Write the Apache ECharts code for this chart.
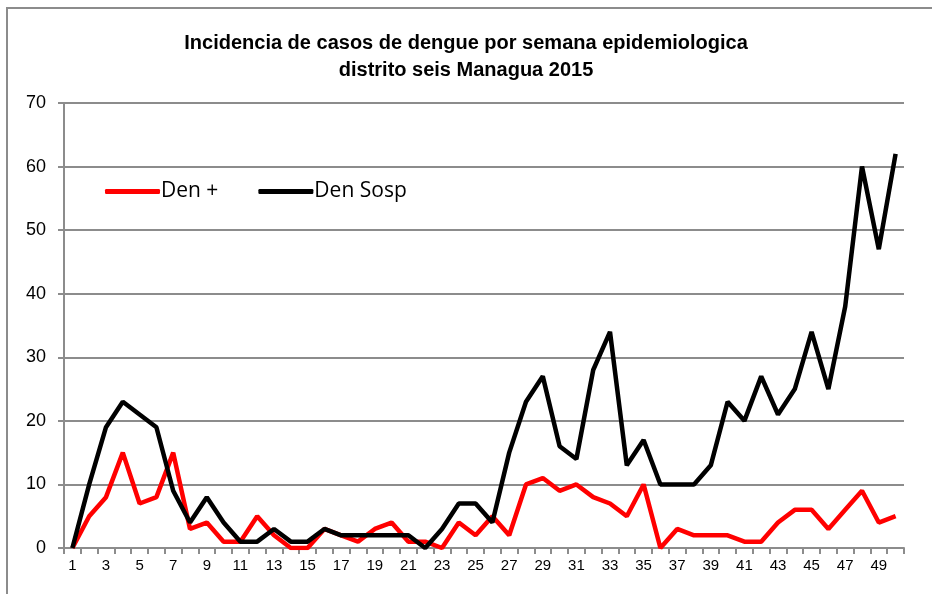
<!DOCTYPE html>
<html>
<head>
<meta charset="utf-8">
<script src="https://cdn.jsdelivr.net/npm/echarts@6/dist/echarts.min.js"></script>
<style>
  html, body { margin: 0; padding: 0; background: #fff; }
  #chart1 { width: 932px; height: 594px; }
</style>
</head>
<body>
<div id="chart1"></div>
<script>
// Semanas epidemiologicas 1..50
const semanas = [];
for (let s = 1; s <= 50; s++) semanas.push(String(s));

const denPositivo = [0, 5, 8, 15, 7, 8, 15, 3, 4, 1, 1, 5, 2, 0, 0, 3, 2, 1, 3, 4,
    1, 1, 0, 4, 2, 5, 2, 10, 11, 9, 10, 8, 7, 5, 10, 0, 3, 2, 2, 2,
    1, 1, 4, 6, 6, 3, 6, 9, 4, 5];

const denSospechoso = [0, 10, 19, 23, 21, 19, 9, 4, 8, 4, 1, 1, 3, 1, 1, 3, 2, 2, 2, 2,
    2, 0, 3, 7, 7, 4, 15, 23, 27, 16, 14, 28, 34, 13, 17, 10, 10, 10, 13, 23,
    20, 27, 21, 25, 34, 25, 38, 60, 47, 62];

const titulo = 'Incidencia de casos de dengue por semana epidemiologica\ndistrito seis Managua 2015';

let chart1;

document.addEventListener('DOMContentLoaded', function () {
    chart1 = echarts.init(document.getElementById('chart1'));
    chart1.setOption({
        animation: false,
        title: {
            text: titulo,
            left: 'center',
            top: 25,
            textStyle: {
                fontFamily: 'Liberation Sans',
                fontSize: 20,
                fontWeight: 'bold',
                color: '#000',
                lineHeight: 27
            }
        },
        graphic: [
            {
                type: 'rect',
                shape: { x: 7, y: 8, width: 1000, height: 1000 },
                style: { fill: 'none', stroke: '#8c8c8c', lineWidth: 2 }
            }
        ],
        legend: {
            left: 100,
            top: 176,
            itemWidth: 55,
            itemHeight: 5,
            itemGap: 40,
            icon: 'roundRect',
            textStyle: {
                fontFamily: 'Open Sans',
                fontSize: 21,
                color: '#000',
                padding: [0, 0, 0, -4]
            },
            data: ['Den +', 'Den Sosp']
        },
        grid: {
            left: 64,
            right: 28,
            top: 103,
            bottom: 46
        },
        xAxis: {
            type: 'category',
            data: semanas,
            boundaryGap: true,
            axisLine: { lineStyle: { color: '#8c8c8c', width: 2 } },
            axisTick: {
                show: true,
                interval: 0,
                length: 6,
                lineStyle: { color: '#8c8c8c', width: 2 }
            },
            axisLabel: {
                interval: 1,
                fontFamily: 'Liberation Sans',
                fontSize: 15,
                color: '#000',
                margin: 10
            }
        },
        yAxis: {
            type: 'value',
            min: 0,
            max: 70,
            interval: 10,
            axisLine: { show: true, lineStyle: { color: '#8c8c8c', width: 2 } },
            axisTick: { show: true, length: 6, lineStyle: { color: '#8c8c8c', width: 2 } },
            splitLine: { lineStyle: { color: '#8c8c8c', width: 2 } },
            axisLabel: {
                fontFamily: 'Liberation Sans',
                fontSize: 18,
                color: '#000',
                margin: 18
            }
        },
        series: [
            {
                name: 'Den +',
                type: 'line',
                data: denPositivo,
                symbol: 'none',
                color: '#ff0000',
                lineStyle: { width: 4.5, color: '#ff0000' },
                z: 2
            },
            {
                name: 'Den Sosp',
                type: 'line',
                data: denSospechoso,
                symbol: 'none',
                color: '#000000',
                lineStyle: { width: 4.5, color: '#000000' },
                z: 3
            }
        ]
    });
});

window.addEventListener('resize', function () {
    chart1.resize();
});
</script>
</body>
</html>
